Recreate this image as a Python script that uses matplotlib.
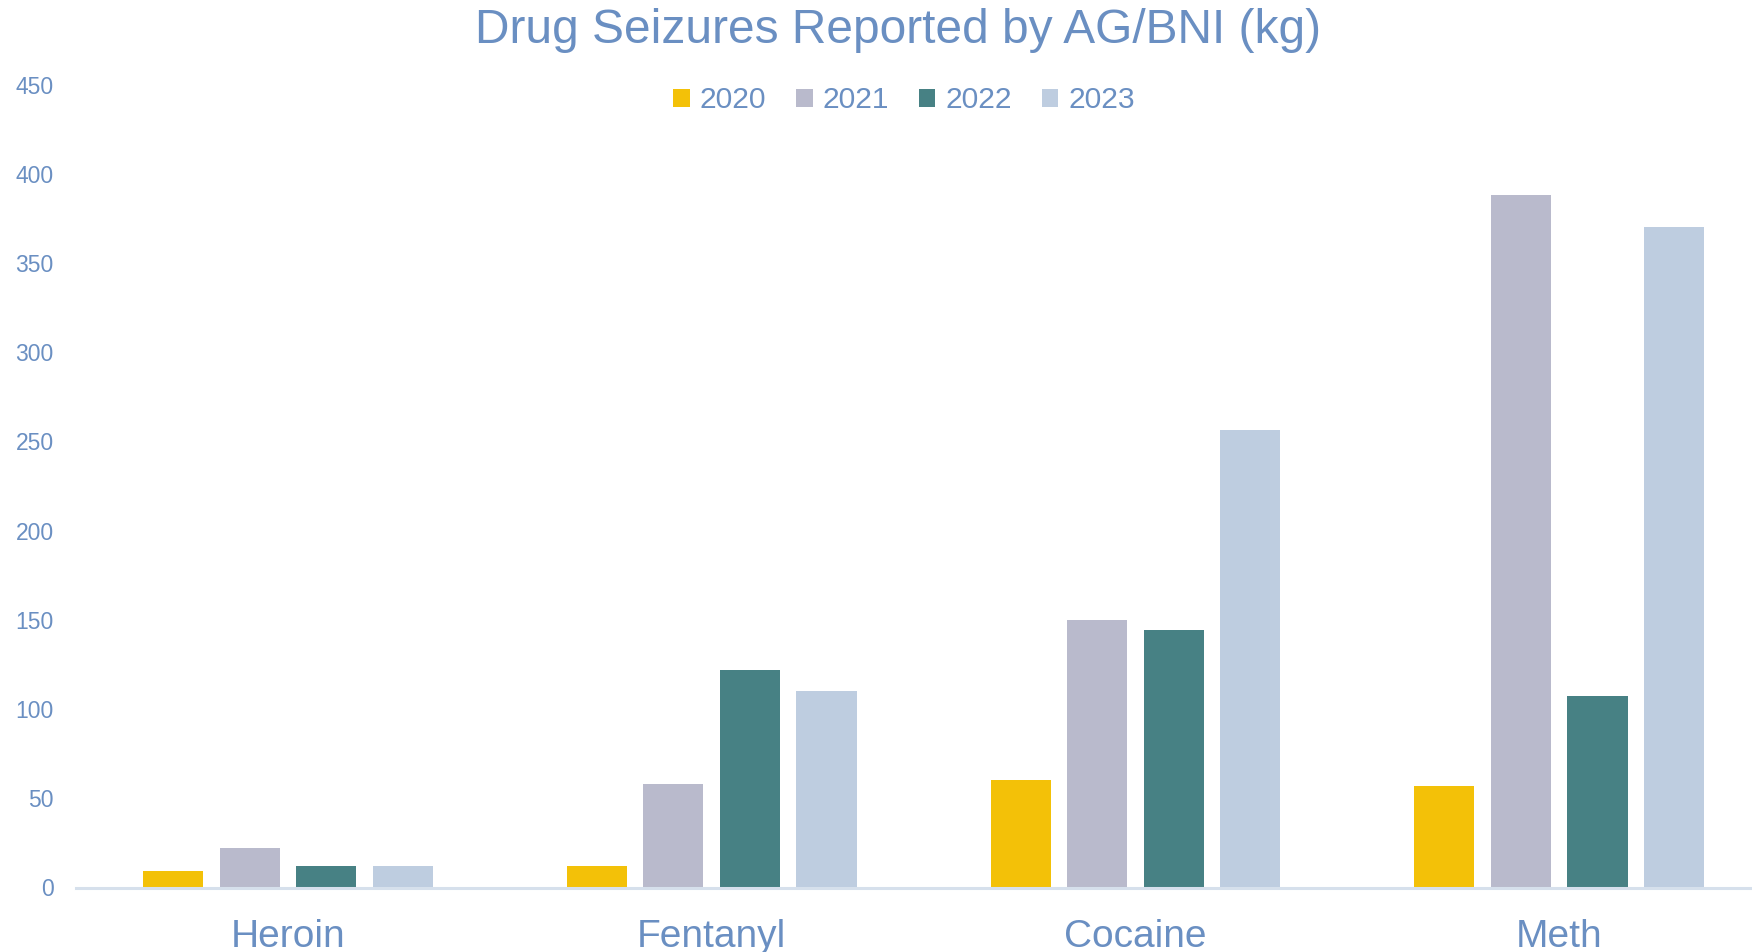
import matplotlib
matplotlib.use("Agg")
import matplotlib.pyplot as plt
from matplotlib.patches import Patch
import numpy as np

# values (kg)
drugs = ["Heroin", "Fentanyl", "Cocaine", "Meth"]
years = ["2020", "2021", "2022", "2023"]
seized_2020 = [9, 12, 60, 57]
seized_2021 = [22, 58, 150, 388]
seized_2022 = [12, 122, 144.5, 107.5]
seized_2023 = [12, 110, 256.5, 370]
y_ticks = [0, 50, 100, 150, 200, 250, 300, 350, 400, 450]

year_colors = ["#F3C108", "#B9BACC", "#478184", "#BECDE0"]
text_color = "#6A8FC2"

plt.rcParams["font.family"] = ["Liberation Sans", "DejaVu Sans"]

W, H = 1752, 952
fig = plt.figure(figsize=(W / 100, H / 100), dpi=100)
ax = fig.add_axes([76 / W, 64.5 / H, (1752 - 76) / W, 803 / H])

series = [seized_2020, seized_2021, seized_2022, seized_2023]
x = np.arange(len(drugs))
step = 0.1806
width = 0.142
for i, (vals, col) in enumerate(zip(series, year_colors)):
    ax.bar(x + (i - 1.5) * step, vals, width=width, color=col, linewidth=0, zorder=2)

ax.set_xlim(-0.5, 3.455)
ax.set_ylim(0, 450)
ax.set_yticks(y_ticks)
ax.set_yticklabels([str(t) for t in y_ticks])
ax.set_xticks(x)
ax.set_xticklabels(drugs)

for side in ["top", "right", "left"]:
    ax.spines[side].set_visible(False)
ax.spines["bottom"].set_color("#D6E0EC")
ax.spines["bottom"].set_linewidth(2.2)

ax.tick_params(axis="y", length=0, pad=16, labelsize=16.5, labelcolor=text_color)
ax.tick_params(axis="x", length=0, pad=23, labelsize=28, labelcolor=text_color)

fig.text(898 / W, 1 - 43 / H, "Drug Seizures Reported by AG/BNI (kg)",
         ha="center", va="baseline", fontsize=34.5, color=text_color)

handles = [Patch(facecolor=c, edgecolor="none") for c in year_colors]
fig.legend(handles, years, loc="center", bbox_to_anchor=(904 / W, 1 - 100.5 / H),
           ncol=4, frameon=False, fontsize=21.6, labelcolor=text_color,
           handlelength=0.55, handleheight=0.55, handletextpad=0.33,
           columnspacing=1.0)

fig.savefig("out.png", dpi=100, facecolor="white")
